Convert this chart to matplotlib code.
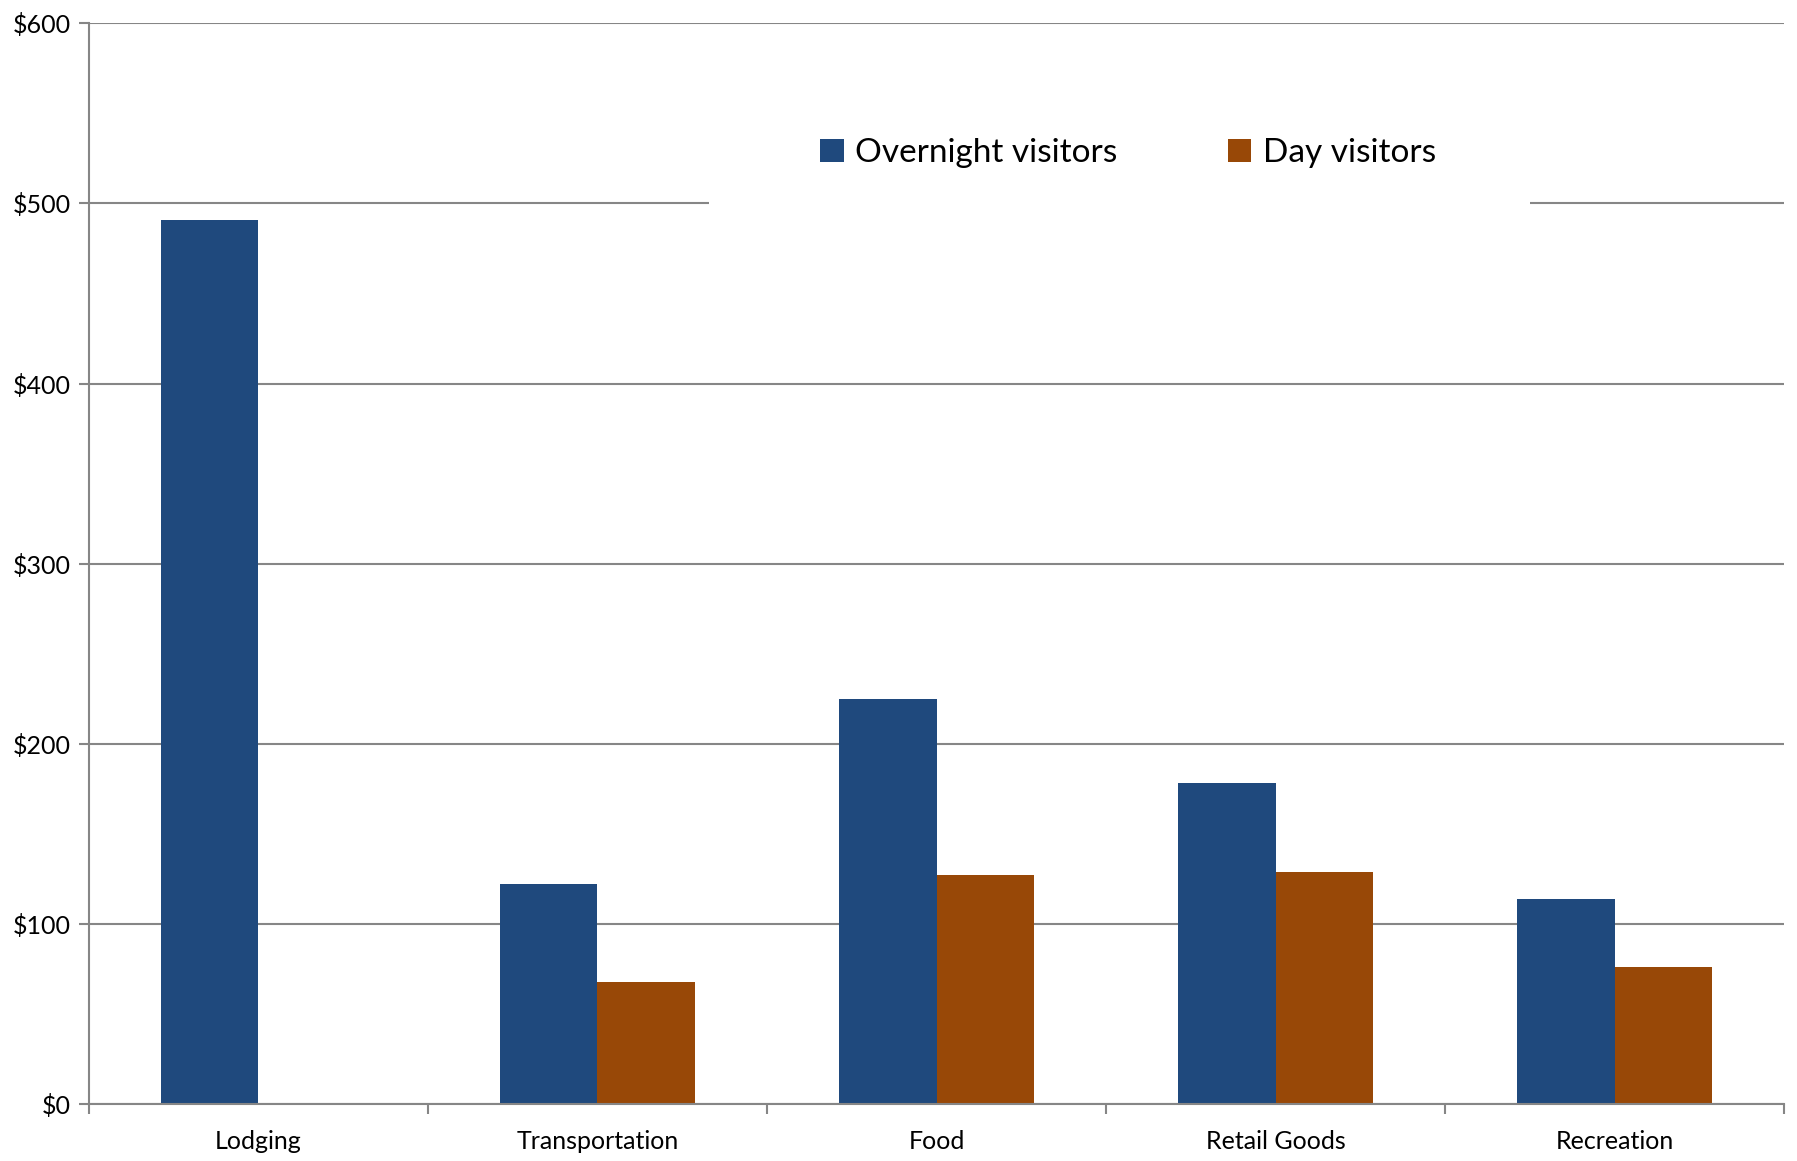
import matplotlib
matplotlib.use("Agg")
import matplotlib.pyplot as plt
import numpy as np
from matplotlib.patches import Rectangle

categories = ["Lodging", "Transportation", "Food", "Retail Goods", "Recreation"]
overnight = [491, 122, 225, 178, 114]
day = [0, 68, 127, 129, 76]
yticks = [0, 100, 200, 300, 400, 500, 600]
ytick_labels = ["\\$0", "\\$100", "\\$200", "\\$300", "\\$400", "\\$500", "\\$600"]
series_names = ["Overnight visitors", "Day visitors"]

plt.rcParams['font.family'] = ['Lato', 'DejaVu Sans']

fig = plt.figure(figsize=(17.97, 11.61), dpi=100)
ax = fig.add_axes([0.0495, 0.049, 0.9433, 0.931])

x = np.arange(len(categories))
w = 0.287
blue = "#1F497D"
orange = "#984807"
b1 = ax.bar(x - w/2, overnight, width=w, color=blue, zorder=2, label=series_names[0])
b2 = ax.bar(x + w/2, day, width=w, color=orange, zorder=2, label=series_names[1])

ax.set_xlim(-0.5, len(categories) - 0.5)
ax.set_ylim(0, 600)
ax.set_yticks(yticks)
ax.set_yticklabels(ytick_labels, fontsize=18)
ax.set_xticks(x)
ax.set_xticklabels(categories, fontsize=18)
ax.set_xticks(np.arange(len(categories) + 1) - 0.5, minor=True)
ax.tick_params(axis='x', which='major', length=0, pad=19)
ax.tick_params(axis='x', which='minor', length=7, width=1.5, color="#868686", direction='out')
ax.tick_params(axis='y', length=7, width=1.5, color="#868686", direction='out', pad=6)

ax.set_axisbelow(True)
ax.yaxis.grid(True, color="#868686", linewidth=1.5)
for s in ['top', 'right']:
    ax.spines[s].set_visible(False)
for s in ['left', 'bottom']:
    ax.spines[s].set_color("#868686")
    ax.spines[s].set_linewidth(1.5)

ax.add_patch(Rectangle((0.366, 0.822), 0.484, 0.107, transform=ax.transAxes,
                       facecolor='white', edgecolor='none', zorder=1))

leg = ax.legend(loc='center', bbox_to_anchor=(0.613, 0.880), ncol=2, frameon=False,
                fontsize=24, handlelength=0.7, handleheight=0.7, handletextpad=0.35,
                columnspacing=3.3)

fig.savefig("out.png", dpi=100)
